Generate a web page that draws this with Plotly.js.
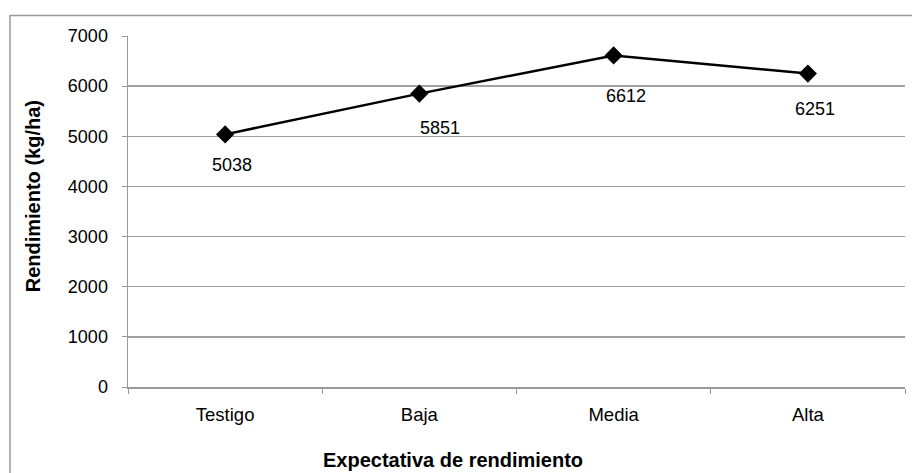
<!DOCTYPE html>
<html>
<head>
<meta charset="utf-8">
<script src="https://cdn.plot.ly/plotly-3.0.1.min.js"></script>
<style>html,body{margin:0;padding:0;background:#fff;}#chart{width:912px;height:473px;}</style>
</head>
<body>
<div id="chart"></div>
<script>
var categories = ["Testigo", "Baja", "Media", "Alta"];
var rendimiento = [5038, 5851, 6612, 6251];
var yTicks = [0, 1000, 2000, 3000, 4000, 5000, 6000, 7000];
var xTitle = "Expectativa de rendimiento";
var yTitle = "Rendimiento (kg/ha)";

// label placement offsets (px) for data labels, style only
var labelDx = [7, 21, 12, 7];
var labelDy = [31, 34, 41, 35];

var W = 912, H = 473;
var mL = 128, mR = 7, mT = 35.5, mB = 86;
var pw = W - mL - mR, ph = H - mT - mB;

var font = "Liberation Sans, Arial, sans-serif";

var trace = {
  x: categories,
  y: rendimiento,
  type: "scatter",
  mode: "lines+markers",
  line: {color: "#000", width: 2.5},
  marker: {symbol: "diamond", size: 14, color: "#000"},
  hoverinfo: "none",
  showlegend: false
};

var annotations = categories.map(function(c, i){
  return {x: c, y: rendimiento[i], xref: "x", yref: "y", text: String(rendimiento[i]),
    showarrow: false, xshift: labelDx[i], yshift: -labelDy[i],
    font: {family: font, size: 18, color: "#000"}};
});

// axis titles placed like the original (centred on the chart area)
annotations.push({
  text: "<b>" + xTitle + "</b>", xref: "paper", yref: "paper",
  x: (453 - mL) / pw, y: (H - mB - 460) / ph, xanchor: "center", yanchor: "middle",
  showarrow: false, font: {family: font, size: 20, color: "#000"}
});
annotations.push({
  text: "<b>" + yTitle + "</b>", xref: "paper", yref: "paper", textangle: -90,
  x: (33 - mL) / pw, y: (H - mB - 196) / ph, xanchor: "center", yanchor: "middle",
  showarrow: false, font: {family: font, size: 20, color: "#000"}
});

var layout = {
  width: W, height: H,
  margin: {l: mL, r: mR, t: mT, b: mB},
  paper_bgcolor: "#fff", plot_bgcolor: "#fff",
  font: {family: font, size: 18, color: "#000"},
  xaxis: {
    type: "category",
    range: [-0.5, 3.5],
    tickson: "boundaries",
    ticks: "outside", ticklen: 5, tickcolor: "#999", tickwidth: 1,
    showline: true, linecolor: "#999", linewidth: 1.5,
    showgrid: false, zeroline: false,
    ticklabelstandoff: 10,
    tickfont: {family: font, size: 18.5, color: "#000"}
  },
  yaxis: {
    range: [0, 7000],
    tickvals: yTicks,
    ticks: "outside", ticklen: 5, tickcolor: "#999", tickwidth: 1,
    showline: true, linecolor: "#999", linewidth: 1.5,
    showgrid: true, gridcolor: "#a0a0a0", gridwidth: 1.3,
    zeroline: false,
    ticklabelstandoff: 10,
    tickfont: {family: font, size: 18, color: "#000"}
  },
  annotations: annotations,
  shapes: [{
    type: "rect", xref: "paper", yref: "paper",
    x0: (10 - mL) / pw, x1: (W + 20 - mL) / pw,
    y0: (H - mB - (H + 20)) / ph, y1: (H - mB - 15) / ph,
    line: {color: "#999", width: 1.5}, fillcolor: "rgba(0,0,0,0)", layer: "below"
  }]
};

Plotly.newPlot("chart", [trace], layout, {displayModeBar: false, staticPlot: true});
</script>
</body>
</html>
